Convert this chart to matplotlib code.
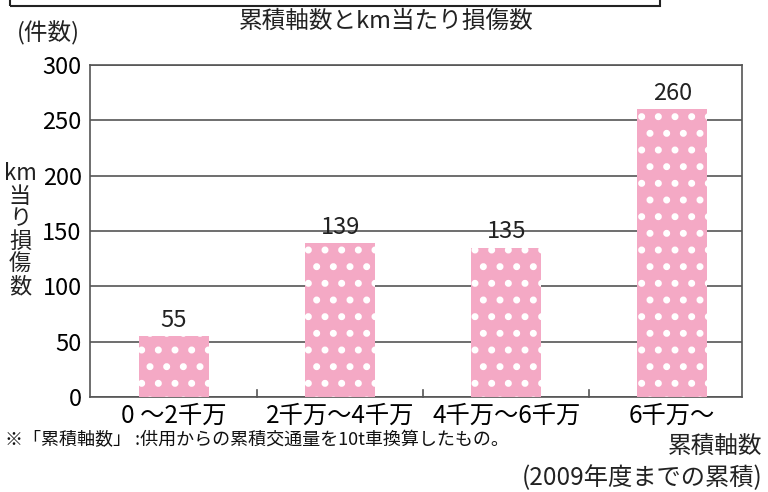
import matplotlib
matplotlib.use("Agg")
import matplotlib.pyplot as plt
from matplotlib.patches import Rectangle

plt.rcParams['font.family'] = ['Noto Sans CJK JP', 'DejaVu Sans']
plt.rcParams['hatch.color'] = 'white'
plt.rcParams['hatch.linewidth'] = 2.6

# data
categories = ['0 ～2千万', '2千万～4千万', '4千万～6千万', '6千万～']
values = [55, 139, 135, 260]
yticks = [0, 50, 100, 150, 200, 250, 300]

fig = plt.figure(figsize=(7.68, 4.92), dpi=100)
ax = fig.add_axes([90 / 768, 1 - 397 / 492, 652 / 768, 332 / 492])

pink = '#f4a9c5'
ax.bar(range(len(values)), values, width=0.42, color=pink, hatch='.',
       edgecolor='white', linewidth=0, zorder=3)

for i, v in enumerate(values):
    ax.text(i, v + 4, str(v), ha='center', va='bottom', fontsize=17,
            color='#222222', zorder=4)

ax.set_xlim(-0.506, 3.42)
ax.set_ylim(0, 300)
ax.set_yticks(yticks)
ax.set_yticklabels([str(t) for t in yticks], fontsize=17)
ax.yaxis.grid(True, color='#555555', linewidth=1.2, zorder=0)
ax.set_xticks(range(len(values)))
ax.set_xticklabels(categories, fontsize=17.5)
ax.tick_params(axis='x', length=0, pad=4)
ax.tick_params(axis='y', length=0, pad=6)
for b in [0.5, 1.5, 2.5]:
    ax.plot([b, b], [0, 6], color='#555555', lw=1.2, zorder=2, clip_on=False)
for s in ax.spines.values():
    s.set_color('#555555')
    s.set_linewidth(1.2)

# top box (cut off)
fig.patches.append(Rectangle((10 / 768, 1 - 6 / 492), 650 / 768, 0.1,
                             transform=fig.transFigure, fill=False,
                             edgecolor='#222222', linewidth=1.5))

fig.text(386 / 768, 1 - 21 / 492, '累積軸数とkm当たり損傷数', ha='center',
         va='center', fontsize=17, color='#222222')
fig.text(48 / 768, 1 - 33 / 492, '(件数)', ha='center', va='center',
         fontsize=17, color='#222222')
fig.text(20 / 768, 1 - 230 / 492, 'km\n当\nり\n損\n傷\n数', ha='center',
         va='center', fontsize=16, color='#222222', linespacing=0.98)
fig.text(5 / 768, 1 - 440 / 492, '※「累積軸数」 :供用からの累積交通量を10t車換算したもの。',
         ha='left', va='center', fontsize=13, color='#111111')
fig.text(762 / 768, 1 - 446 / 492, '累積軸数', ha='right', va='center',
         fontsize=17, color='#222222')
fig.text(762 / 768, 1 - 478 / 492, '(2009年度までの累積)', ha='right',
         va='center', fontsize=17.5, color='#222222')

fig.savefig('out.png', dpi=100)
